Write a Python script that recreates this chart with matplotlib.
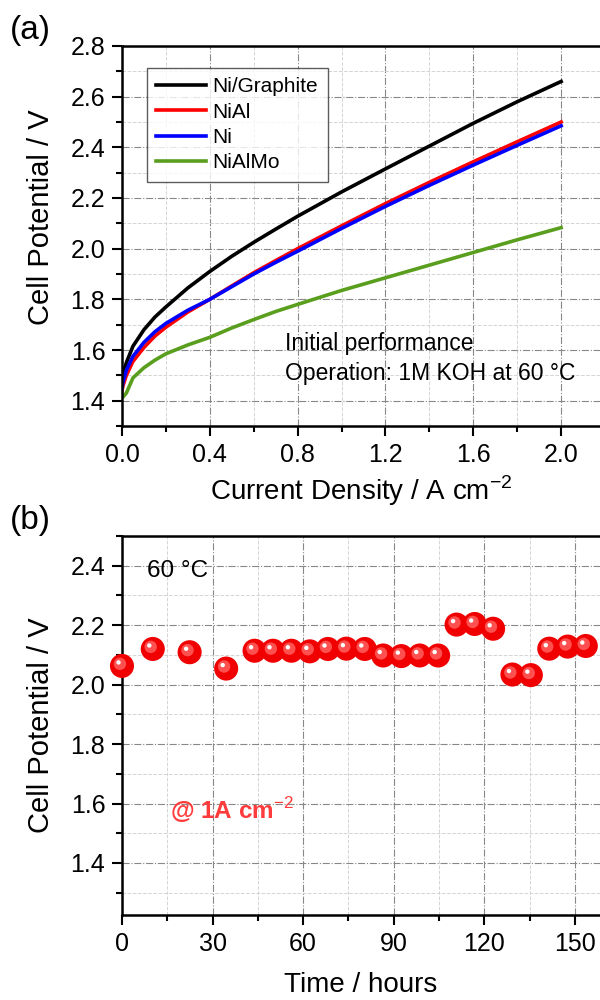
import numpy as np
import matplotlib
matplotlib.use('Agg')
import matplotlib.pyplot as plt
from matplotlib.ticker import MultipleLocator
from matplotlib.transforms import offset_copy

plt.rcParams['font.family'] = ['Liberation Sans', 'DejaVu Sans']
plt.rcParams['mathtext.fontset'] = 'custom'
plt.rcParams['mathtext.rm'] = 'Liberation Sans'

# (a) polarization curves
current = [0, 0.005, 0.02, 0.05, 0.1, 0.15, 0.2, 0.3, 0.4, 0.5, 0.6, 0.7, 0.8,
           1.0, 1.2, 1.4, 1.6, 1.8, 2.0]
v_graphite = [1.48, 1.51, 1.55, 1.615, 1.68, 1.73, 1.77, 1.845, 1.91, 1.97, 2.025, 2.077, 2.128,
              2.224, 2.315, 2.405, 2.495, 2.58, 2.66]
v_nial = [1.44, 1.46, 1.50, 1.555, 1.61, 1.655, 1.69, 1.75, 1.80, 1.853, 1.905, 1.953, 2.0,
          2.09, 2.178, 2.262, 2.343, 2.422, 2.5]
v_ni = [1.45, 1.475, 1.52, 1.575, 1.63, 1.672, 1.705, 1.757, 1.80, 1.85, 1.90, 1.946, 1.99,
        2.08, 2.167, 2.25, 2.33, 2.408, 2.485]
v_nialmo = [1.42, 1.415, 1.43, 1.49, 1.53, 1.56, 1.585, 1.62, 1.65, 1.687, 1.72, 1.752, 1.78,
            1.835, 1.885, 1.935, 1.985, 2.035, 2.083]
labels = ['Ni/Graphite', 'NiAl', 'Ni', 'NiAlMo']
colors = ['black', '#ff0000', '#0000ff', '#5a9e1e']

# (b) stability test at 1 A cm-2
hours = [0, 10.2, 22.4, 34.5, 43.9, 50, 56.1, 62.2, 68.2, 74.3, 80.4, 86.5, 92.5,
         98.6, 104.7, 110.8, 116.8, 122.9, 129.3, 135.4, 141.5, 147.6, 153.6]
cell_v = [2.063, 2.12, 2.109, 2.054, 2.114, 2.114, 2.114, 2.112, 2.12, 2.121, 2.12, 2.098, 2.096,
          2.098, 2.098, 2.202, 2.204, 2.188, 2.034, 2.032, 2.121, 2.128, 2.13]

fig = plt.figure(figsize=(6, 10), dpi=100)
ax1 = fig.add_axes([0.2033, 0.574, 0.7967, 0.380])
ax2 = fig.add_axes([0.2033, 0.085, 0.7967, 0.379])


def style(ax):
    for s in ['left', 'bottom', 'top']:
        ax.spines[s].set_linewidth(1.8)
    ax.spines['right'].set_visible(False)
    ax.tick_params(which='major', direction='out', length=7, width=1.5, labelsize=18, pad=5,
                   top=False, right=False)
    ax.tick_params(which='minor', direction='out', length=4, width=1.5, top=False, right=False)
    ax.grid(which='major', color='#888888', linestyle='-.', linewidth=0.8)
    ax.grid(which='minor', color='#d4d4d4', linestyle='--', linewidth=0.7)
    ax.set_axisbelow(True)


for v, lab, c in zip([v_graphite, v_nial, v_ni, v_nialmo], labels, colors):
    ax1.plot(current, v, color=c, lw=2.6, label=lab)
ax1.set_xlim(0, 2.177)
ax1.set_ylim(1.3, 2.8)
ax1.xaxis.set_major_locator(MultipleLocator(0.4))
ax1.xaxis.set_minor_locator(MultipleLocator(0.2))
ax1.yaxis.set_major_locator(MultipleLocator(0.2))
ax1.yaxis.set_minor_locator(MultipleLocator(0.1))
ax1.xaxis.set_major_formatter(lambda x, p: f'{x:.1f}')
ax1.yaxis.set_major_formatter(lambda x, p: f'{x:.1f}')
style(ax1)
ax1.set_xlabel('Current Density / A cm$^{-2}$', fontsize=20, labelpad=5)
ax1.set_ylabel('Cell Potential / V', fontsize=21)
ax1.yaxis.set_label_coords(-0.14, 0.55)
leg = ax1.legend(loc='upper left', bbox_to_anchor=(0.245, 0.932), bbox_transform=fig.transFigure,
                 borderaxespad=0, fontsize=15, frameon=True, fancybox=False, handlelength=2.4,
                 handletextpad=0.3, labelspacing=0.3, borderpad=0.45)
leg.get_frame().set_edgecolor('#333333')
leg.get_frame().set_linewidth(1.0)
ax1.text(0.743, 1.626, 'Initial performance', fontsize=16.5, va='center')
ax1.text(0.743, 1.508, 'Operation: 1M KOH at 60 °C', fontsize=16.5, va='center')

ax2.scatter(hours, cell_v, s=300, color='#f00000', edgecolors='none', zorder=3, clip_on=False)
ax2.scatter(hours, cell_v, s=80, color='#ff5050', edgecolors='none', zorder=4, clip_on=False,
            transform=offset_copy(ax2.transData, fig=fig, x=-1.5, y=1.5, units='points'))
ax2.scatter(hours, cell_v, s=10, color='white', edgecolors='none', zorder=5, clip_on=False,
            transform=offset_copy(ax2.transData, fig=fig, x=-2.5, y=2.5, units='points'))
ax2.set_xlim(0, 158.3)
ax2.set_ylim(1.225, 2.5)
ax2.xaxis.set_major_locator(MultipleLocator(30))
ax2.xaxis.set_minor_locator(MultipleLocator(15))
ax2.yaxis.set_major_locator(MultipleLocator(0.2))
ax2.yaxis.set_minor_locator(MultipleLocator(0.1))
ax2.yaxis.set_major_formatter(lambda x, p: f'{x:.1f}')
style(ax2)
ax2.set_xlabel('Time / hours', fontsize=20, labelpad=12)
ax2.set_ylabel('Cell Potential / V', fontsize=21)
ax2.yaxis.set_label_coords(-0.14, 0.5)
ax2.text(8.3, 2.383, '60 °C', fontsize=17.5, va='center')
ax2.text(15.9, 1.578, '@ 1A cm$^{-2}$', fontsize=17.5, fontweight='bold', color='#ff3b3b', va='center')

fig.text(0.017, 0.969, '(a)', fontsize=24, va='center')
fig.text(0.017, 0.480, '(b)', fontsize=24, va='center')

fig.savefig('out.png', dpi=100)
